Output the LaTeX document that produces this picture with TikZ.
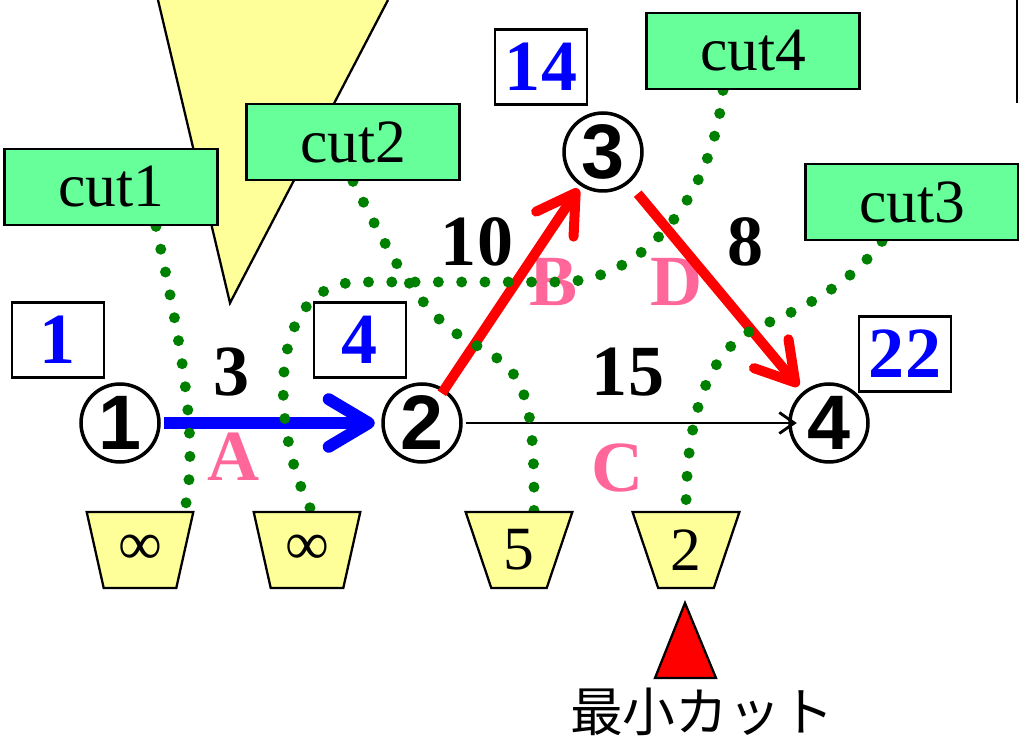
\documentclass[tikz,border=0pt]{standalone}
\usepackage{fontspec}
\setmainfont{Liberation Serif}
\newfontfamily\gothic{Noto Sans CJK JP}
\newfontfamily\circfont{Liberation Sans}
\usetikzlibrary{positioning}
\usetikzlibrary{shapes.geometric,arrows.meta}
\definecolor{cutgreen}{RGB}{102,255,153}
\definecolor{capyellow}{RGB}{255,255,153}
\definecolor{dotgreen}{RGB}{0,128,0}
\definecolor{labelpink}{RGB}{255,102,153}
\pgfdeclarelayer{back}
\pgfdeclarelayer{dots}
\pgfdeclarelayer{front}
\pgfsetlayers{back,main,dots,front}

\begin{document}
\begin{tikzpicture}[x=0.02cm,y=-0.02cm,
  vertex/.style = {circle, draw, line width=2pt, minimum size=1.56cm, inner sep=0pt,
    font=\circfont\bfseries\fontsize{44pt}{48pt}\selectfont},
  dist/.style = {draw, line width=1.3pt, fill=white, minimum width=1.84cm,
    minimum height=1.5cm, inner sep=0pt, text=blue,
    font=\bfseries\fontsize{41pt}{45pt}\selectfont},
  weight/.style = {font=\bfseries\fontsize{41pt}{45pt}\selectfont},
  edgename/.style = {text=labelpink, font=\bfseries\fontsize{41pt}{45pt}\selectfont},
  cutbox/.style = {draw, line width=1.6pt, fill=cutgreen, minimum width=4.25cm,
    minimum height=1.52cm, inner sep=0pt, font=\fontsize{35pt}{40pt}\selectfont},
  capacity/.style = {trapezium, shape border rotate=180, trapezium left angle=70.8,
    trapezium right angle=70.8, trapezium stretches=true, draw, line width=1.3pt,
    fill=capyellow, minimum width=2.14cm, minimum height=1.52cm, inner sep=0pt,
    font=\fontsize{35pt}{40pt}\selectfont},
  cutline/.style = {dotgreen, line width=0.22cm, line cap=round,
    dash pattern=on 0pt off 0.466cm},
  flow/.style = {blue, line width=0.24cm, -{Straight Barb[length=0.8cm, width=0.95cm, round]}},
  augment/.style = {red, line width=0.2cm, -{Straight Barb[length=0.75cm, width=0.9cm, round]}},
  plain/.style = {line width=1.6pt, -{Straight Barb[length=0.3cm, width=0.42cm]}}
  ]
  \useasboundingbox (0,0) rectangle (1019,743);

  \begin{pgfonlayer}{back}
    \fill[capyellow] (158,0) -- (230,303) -- (388,0) -- cycle;
    \draw[line width=1.3pt] (158,0) -- (230,303) -- (388,0);
  \end{pgfonlayer}
  \draw[line width=1.2pt] (1017,0) -- (1017,103);

  \node[vertex] (n1) at (120,423) {1};
  \node[vertex] (n2) at (422,423) {2};
  \node[vertex] (n3) at (603,152) {3};
  \node[vertex] (n4) at (829,423) {4};

  \node[dist] (d1) at (58,340) {1};
  \node[dist] (d2) at (360,340) {4};
  \node[dist] (d3) at (541,67) {14};
  \node[dist] (d4) at (905,354) {22};

  \node[weight] (w12) at (232,372) {3};
  \node[weight] (w23) at (477,242) {10};
  \node[weight] (w34) at (746,242) {8};
  \node[weight] (w24) at (628,372) {15};
  \node[edgename] (eA) at (234,457) {A};
  \node[edgename] (eB) at (554,282) {B};
  \node[edgename] (eC) at (618,468) {C};
  \node[edgename] (eD) at (677,282) {D};

  \draw[flow, shorten <=0.07cm, shorten >=0.13cm] (n1) -- (n2);
  \draw[augment, shorten <=-0.1cm, shorten >=0.07cm] (n2) -- (n3);
  \draw[augment, shorten <=0.27cm, shorten >=0.14cm] (n3) -- (n4);
  \draw[plain, shorten <=0.07cm, shorten >=-0.17cm] (n2) -- (n4);

  \begin{pgfonlayer}{front}
    \node[cutbox] (cut1) at (111,187) {cut1};
    \node[cutbox] (cut2) at (353,142) {cut2};
    \node[cutbox] (cut4) at (753,51) {cut4};
    \node[cutbox] (cut3) at (912,202) {cut3};
    \node[capacity] (cap1) at (140,550) {∞};
    \node[capacity] (cap2) at (307,550) {∞};
    \node[capacity] (cap3) at (519,550) {5};
    \node[capacity] (cap4) at (686,550) {2};
  \end{pgfonlayer}

  \begin{pgfonlayer}{dots}
    \draw[cutline] ([xshift=0.9cm]cut1.south) .. controls (180,340) and (200,440) .. ([xshift=0.89cm]cap1.north);
    \draw[cutline] (cut2.south) .. controls (390,255) and (420,315) .. (470,342)
      .. controls (520,369) and (535,380) .. ([xshift=0.3cm]cap3.north);
    \draw[cutline] ([xshift=-0.6cm]cut4.south) .. controls (712,200) and (640,282) .. (560,282)
      -- (360,282) .. controls (265,282) and (270,430) .. ([xshift=0.09cm]cap2.north);
    \draw[cutline] ([xshift=-0.6cm]cut3.south) .. controls (850,285) and (800,310) .. (760,326)
      .. controls (710,348) and (686,410) .. (cap4.north);
  \end{pgfonlayer}

  \filldraw[fill=red, line width=1.3pt] (685,603) -- (716,678) -- (655,678) -- cycle;
  \node[font=\gothic\fontsize{30pt}{34pt}\selectfont] (mincut) at (702,712) {最小カット};
\end{tikzpicture}
\end{document}
